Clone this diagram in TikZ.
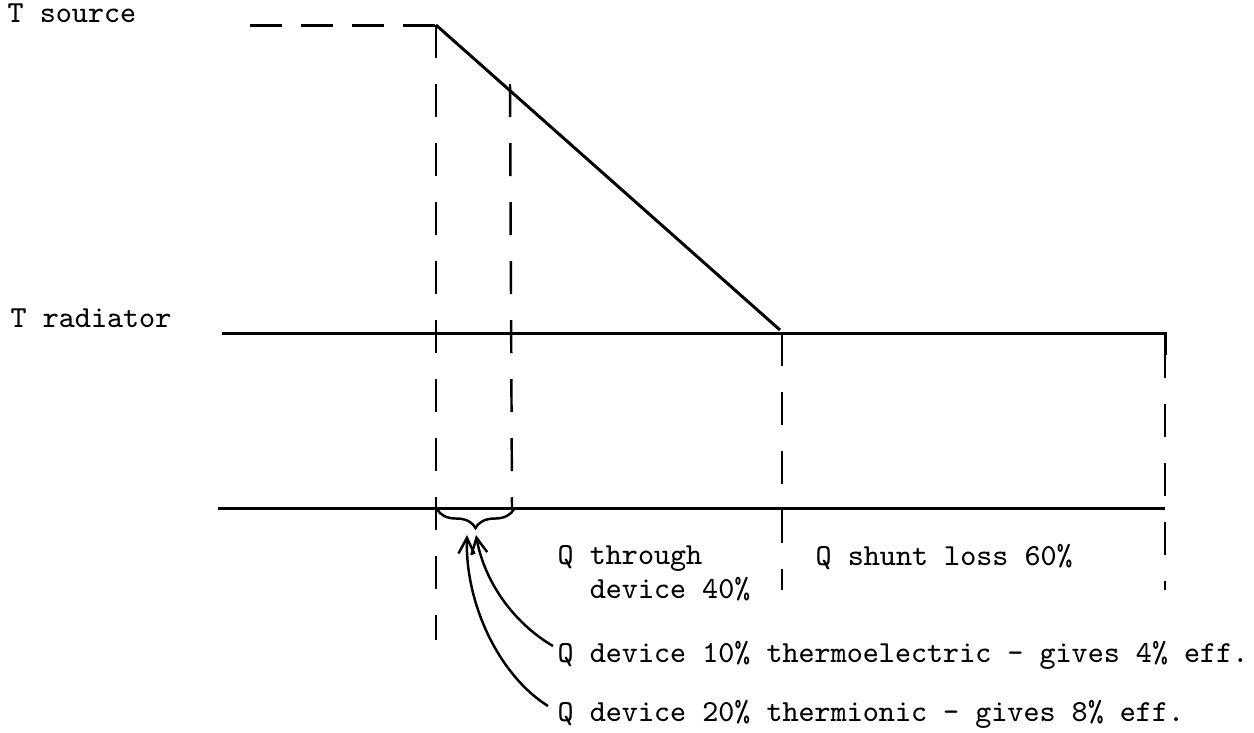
\documentclass[tikz,border=0pt]{standalone}
\usetikzlibrary{arrows.meta,decorations.pathreplacing}
\begin{document}
\begin{tikzpicture}[x=0.01cm,y=-0.01cm,
  lbl/.style={inner sep=0pt,anchor=base west,font=\fontsize{8.7pt}{9.4pt}\selectfont\ttfamily},
  solidln/.style={line width=0.85pt},
  dashln/.style={line width=0.7pt,dash pattern=on 0.33cm off 0.26cm},
  topdash/.style={line width=0.85pt,dash pattern=on 0.32cm off 0.19cm},
  barb/.style={-{Straight Barb[length=0.16cm,width=0.16cm]},line width=0.7pt}]
\useasboundingbox (0,0) rectangle (1254,732);
\fill[white] (0,0) rectangle (1254,732);
% labels
\node[lbl] (tsrc) at (7,22) {T source};
\node[lbl] (trad) at (10,327) {T radiator};
\node[lbl,align=left] (qthr) at (557,598) {Q through\\\phantom{xx}device 40\%};
\node[lbl] (qshunt) at (815,565) {Q shunt loss 60\%};
\node[lbl] (qte) at (557,662) {Q device 10\% thermoelectric - gives 4\% eff.};
\node[lbl] (qti) at (557,721) {Q device 20\% thermionic - gives 8\% eff.};
% key points
\coordinate (ts0) at (250,25);
\coordinate (ts1) at (436,25);
\coordinate (sl1) at (510,84);
\coordinate (sl2) at (780,330);
\coordinate (r0) at (222,333);
\coordinate (r1) at (1165,333);
\coordinate (b0) at (218,508);
\coordinate (b1) at (1165,508);
\coordinate (v1b) at (436,640);
\coordinate (v2b) at (512,508);
\coordinate (v3t) at (782,333);
\coordinate (v3b) at (782,590);
\coordinate (v4b) at (1165,590);
\coordinate (brl) at (437,509);
\coordinate (brr) at (514,509);
\coordinate (tip1) at (476,535);
\coordinate (tip2) at (467,535);
\coordinate (st1) at (553,646);
\coordinate (st2) at (548,706);
% top dashed source level
\draw[topdash] (ts0) -- (ts1);
% temperature profile
\draw[solidln] (ts1) -- (sl2);
% radiator and base lines
\draw[solidln] (r0) -- (r1) -- ++(0,22);
\draw[solidln] (b0) -- (b1);
% dashed verticals
\draw[dashln] (ts1) -- (v1b);
\draw[dashln] (sl1) -- (v2b);
\draw[dashln] (v3t) -- (v3b);
\draw[dashln,dash phase=0.1cm] (r1) ++(0,22) -- (v4b);
% brace
\draw[line width=0.7pt,decorate,decoration={brace,mirror,amplitude=0.19cm}] (brl) -- (brr);
% arrows
\draw[barb] (st1) .. controls (512,622) and (484,580) .. (tip1);
\draw[barb] (st2) .. controls (500,676) and (465,605) .. (tip2);
\end{tikzpicture}
\end{document}
